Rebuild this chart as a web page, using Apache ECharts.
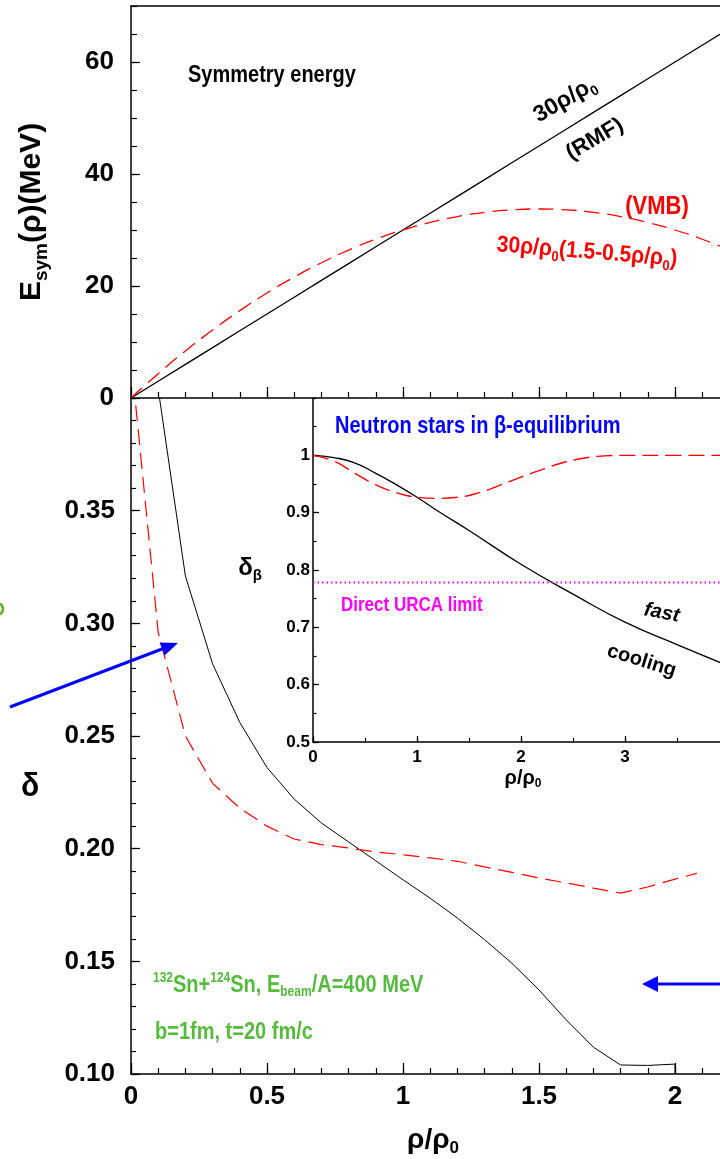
<!DOCTYPE html>
<html>
<head>
<meta charset="utf-8">
<script src="https://cdn.jsdelivr.net/npm/echarts@6/dist/echarts.min.js"></script>
<style>
  html, body { margin: 0; padding: 0; background: #fff; }
  #chart { width: 720px; height: 1159px; }
</style>
</head>
<body>
<div id="chart"></div>
<script>
// top panel: symmetry energy vs rho/rho0
const rhoE = [0, 0.1, 0.2, 0.3, 0.4, 0.5, 0.6, 0.7, 0.8, 0.9, 1.0, 1.1, 1.2, 1.3, 1.4, 1.5, 1.6, 1.7, 1.8, 1.9, 2.0, 2.1, 2.2, 2.3, 2.4, 2.5];
const esymRMF = [0, 3, 6, 9, 12, 15, 18, 21, 24, 27, 30, 33, 36, 39, 42, 45, 48, 51, 54, 57, 60, 63, 66, 69, 72, 75];
const esymVMB = [0, 4.35, 8.4, 12.15, 15.6, 18.75, 21.6, 24.15, 26.4, 28.35, 30, 31.35, 32.4, 33.15, 33.6, 33.75, 33.6, 33.15, 32.4, 31.35, 30, 28.35, 26.4, 24.15, 21.6, 18.75];

// bottom panel: isospin asymmetry in the collision
const rhoHicRMF = [0.1, 0.2, 0.3, 0.4, 0.5, 0.6, 0.7, 0.8, 0.9, 1.0, 1.1, 1.2, 1.3, 1.4, 1.5, 1.6, 1.7, 1.8, 1.9, 2.0, 2.0];
const deltaRMF = [0.404, 0.321, 0.282, 0.256, 0.236, 0.222, 0.2114, 0.203, 0.1946, 0.1862, 0.178, 0.1692, 0.1596, 0.1492, 0.1373, 0.124, 0.1119, 0.104, 0.1038, 0.1044, 0.10];
const rhoHicVMB = [0, 0.1, 0.2, 0.3, 0.4, 0.5, 0.6, 0.7, 0.8, 0.9, 1.0, 1.1, 1.2, 1.3, 1.4, 1.5, 1.6, 1.7, 1.8, 1.9, 2.0, 2.08];
const deltaVMB = [0.418, 0.296, 0.25, 0.229, 0.218, 0.21, 0.2043, 0.2018, 0.2003, 0.1985, 0.1973, 0.1959, 0.1944, 0.1919, 0.1895, 0.187, 0.1848, 0.1825, 0.1803, 0.183, 0.1865, 0.189];

// inset: neutron stars in beta equilibrium
const rhoNsRMF = [0, 0.2, 0.4, 0.6, 0.8, 1.0, 1.2, 1.5, 2.0, 2.5, 3.0, 3.5, 4.0];
const deltaBetaRMF = [1.0, 0.996, 0.987, 0.969, 0.949, 0.927, 0.903, 0.869, 0.81, 0.758, 0.709, 0.67, 0.632];
const rhoNsVMB = [0, 0.2, 0.4, 0.6, 0.8, 1.0, 1.2, 1.4, 1.6, 1.8, 2.0, 2.2, 2.4, 2.6, 2.8, 3.0, 3.5, 4.0];
const deltaBetaVMB = [1.0, 0.99, 0.969, 0.949, 0.935, 0.927, 0.925, 0.927, 0.935, 0.948, 0.962, 0.975, 0.987, 0.995, 0.999, 1.0, 1.0, 1.0];
const urcaLimit = 0.778;

const FAM = '"Liberation Sans", Arial, sans-serif';
const zip = (xs, ys) => xs.map((x, i) => [x, ys[i]]);

function rich(F, weight, color, fstyle) {
  const f = Math.round(F * 0.62);
  const P = Math.round(F * 0.12);
  const w = (fstyle ? fstyle + ' ' : '') + weight;
  return {
    n: { font: w + ' ' + F + 'px ' + FAM, fill: color, verticalAlign: 'top', padding: [P, 0, 0, 0] },
    b: { font: w + ' ' + f + 'px ' + FAM, fill: color, verticalAlign: 'top', padding: [Math.round(P + F - 0.8 * f), 0, 0, 0] },
    p: { font: w + ' ' + f + 'px ' + FAM, fill: color, verticalAlign: 'top', padding: [Math.max(0, Math.round(P + 0.4 * F - 0.8 * f)), 0, 0, 0] }
  };
}

function txt(x, y, text, F, color, opt) {
  opt = opt || {};
  const al = opt.align || 'center';
  return {
    type: 'text', x: x, y: y, rotation: opt.rot || 0, scaleY: opt.sy || 1, z: 100, silent: true,
    style: {
      text: text, rich: rich(F, opt.weight || 'bold', color, opt.italic ? 'italic' : ''),
      align: al, textAlign: al, verticalAlign: 'middle', textVerticalAlign: 'middle'
    }
  };
}

function axis(grid, pos, min, max, interval, tick, line, label) {
  return {
    type: 'value', gridIndex: grid, position: pos, min: min, max: max, interval: interval,
    axisLine: { show: line, onZero: false, lineStyle: { color: '#000', width: 1.5 } },
    axisTick: { show: tick > 0, inside: true, length: tick, lineStyle: { color: '#000', width: 1.2 } },
    axisLabel: label ? Object.assign({ color: '#000', fontFamily: FAM, fontWeight: 'bold', showMaxLabel: false }, label) : { show: false },
    splitLine: { show: false }
  };
}

const chart = echarts.init(document.getElementById('chart'));

chart.setOption({
  animation: false,
  backgroundColor: '#fff',
  grid: [
    { left: 131, top: 6, width: 680, height: 392, outerBoundsMode: 'none', containLabel: false },
    { left: 131, top: 398, width: 680, height: 676, outerBoundsMode: 'none', containLabel: false },
    { left: 313, top: 398, width: 416, height: 344, outerBoundsMode: 'none', containLabel: false }
  ],
  xAxis: [
    axis(0, 'bottom', 0, 2.5, 0.5, 11, true, null),
    axis(0, 'bottom', 0, 2.5, 0.1, 6, false, null),
    axis(0, 'top', 0, 2.5, 0.5, 0, true, null),
    axis(1, 'bottom', 0, 2.5, 0.5, 11, true, { fontSize: 26, margin: 10 }),
    axis(1, 'bottom', 0, 2.5, 0.1, 6, false, null),
    axis(2, 'bottom', 0, 4, 1, 6, true, { fontSize: 17, margin: 7 }),
    axis(2, 'bottom', 0, 4, 0.5, 4, false, null)
  ],
  yAxis: [
    axis(0, 'left', 0, 70, 20, 9, true, { fontSize: 26, margin: 17 }),
    axis(0, 'left', 0, 70, 5, 6, false, null),
    axis(1, 'left', 0.1, 0.4, 0.05, 9, true, { fontSize: 26, margin: 16, formatter: v => v.toFixed(2) }),
    axis(1, 'left', 0.1, 0.4, 0.01, 5, false, null),
    axis(2, 'left', 0.5, 1.1, 0.1, 6, true, { fontSize: 17, margin: 3 }),
    axis(2, 'left', 0.5, 1.1, 0.05, 3.5, false, null)
  ],
  series: [
    { type: 'line', xAxisIndex: 0, yAxisIndex: 0, data: zip(rhoE, esymRMF), symbol: 'none',
      lineStyle: { color: '#000', width: 1.3 } },
    { type: 'line', xAxisIndex: 0, yAxisIndex: 0, data: zip(rhoE, esymVMB), symbol: 'none', smooth: true,
      lineStyle: { color: '#ff0000', width: 1.3, type: [15, 8] } },
    { type: 'line', xAxisIndex: 3, yAxisIndex: 2, data: zip(rhoHicRMF, deltaRMF), symbol: 'none',
      lineStyle: { color: '#000', width: 1 } },
    { type: 'line', xAxisIndex: 3, yAxisIndex: 2, data: zip(rhoHicVMB, deltaVMB), symbol: 'none',
      lineStyle: { color: '#ff0000', width: 1.2, type: [16, 8] } },
    { type: 'line', xAxisIndex: 5, yAxisIndex: 4, data: zip(rhoNsRMF, deltaBetaRMF), symbol: 'none', smooth: true,
      lineStyle: { color: '#000', width: 1.3 } },
    { type: 'line', xAxisIndex: 5, yAxisIndex: 4, data: zip(rhoNsVMB, deltaBetaVMB), symbol: 'none', smooth: true,
      lineStyle: { color: '#ff0000', width: 1.4, type: [16, 7] } },
    { type: 'line', xAxisIndex: 5, yAxisIndex: 4, data: [[0, urcaLimit], [4, urcaLimit]], symbol: 'none',
      lineStyle: { color: '#ff00ff', width: 2, type: [1.5, 3] } }
  ],
  graphic: [
    txt(188, 75, '{n|Symmetry energy}', 20, '#000', { align: 'left', sy: 1.15 }),
    txt(565, 100, '{n|30ρ/ρ}{b|0}', 23, '#000', { rot: 0.53 }),
    txt(594, 138, '{n|(RMF)}', 22, '#000', { rot: 0.53 }),
    txt(657, 205, '{n|(VMB)}', 22, '#ff0000', { sy: 1.15 }),
    txt(587, 252, '{n|30ρ/ρ}{b|0}{n|(1.5-0.5ρ/ρ}{b|0}{n|)}', 21, '#ff0000', { rot: -0.08, sy: 1.1 }),
    txt(335, 426, '{n|Neutron stars in β-equilibrium}', 20, '#0000ff', { align: 'left', sy: 1.15 }),
    txt(250, 568, '{n|δ}{b|β}', 24, '#000'),
    txt(341, 604, '{n|Direct URCA limit}', 17, '#ff00ff', { align: 'left', sy: 1.2 }),
    txt(662, 612, '{n|fast}', 20, '#000', { rot: -0.19, italic: true }),
    txt(642, 660, '{n|cooling}', 20, '#000', { rot: -0.3 }),
    txt(153, 985, '{p|132}{n|Sn+}{p|124}{n|Sn, E}{b|beam}{n|/A=400 MeV}', 20, '#55bb3d', { align: 'left', sy: 1.2 }),
    txt(155, 1031, '{n|b=1fm, t=20 fm/c}', 20, '#55bb3d', { align: 'left', sy: 1.2 }),
    txt(32, 212, '{n|E}{b|sym}{n|(ρ)(MeV)}', 30, '#000', { rot: Math.PI / 2 }),
    txt(30, 785, '{n|δ}', 30, '#000', { sy: 1.1 }),
    txt(433, 1140, '{n|ρ/ρ}{b|0}', 28, '#000'),
    txt(523, 778, '{n|ρ/ρ}{b|0}', 20, '#000'),
    // arrows and the cut-off glyph at the left edge
    { type: 'line', silent: true, z: 100, shape: { x1: 10, y1: 707, x2: 162, y2: 649 }, style: { stroke: '#0000ff', lineWidth: 3 } },
    { type: 'polygon', silent: true, z: 100, shape: { points: [[178, 643], [164.6, 655.6], [159.6, 642.6]] }, style: { fill: '#0000ff' } },
    { type: 'line', silent: true, z: 100, shape: { x1: 656, y1: 984, x2: 730, y2: 984 }, style: { stroke: '#0000ff', lineWidth: 3 } },
    { type: 'polygon', silent: true, z: 100, shape: { points: [[642, 984], [658, 976], [658, 992]] }, style: { fill: '#0000ff' } },
    { type: 'circle', silent: true, z: 100, shape: { cx: -3, cy: 609, r: 6 }, style: { fill: 'none', stroke: '#62b02c', lineWidth: 2.5 } }
  ]
});
</script>
</body>
</html>
